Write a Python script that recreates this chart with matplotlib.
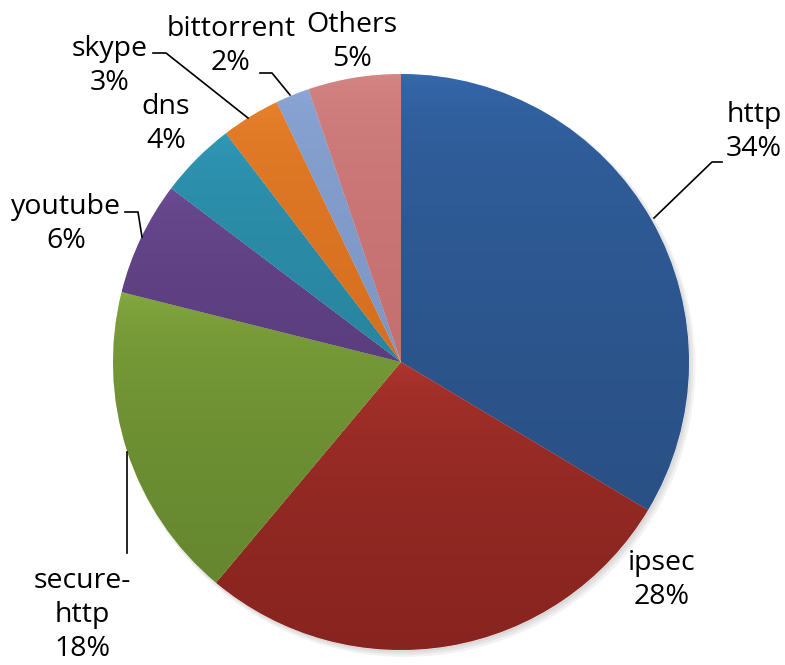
import numpy as np
import matplotlib.pyplot as plt
from matplotlib.colors import to_rgb

labels = ["http", "ipsec", "secure-\nhttp", "youtube", "dns", "skype", "bittorrent", "Others"]
shares = [33.6, 27.5, 17.8, 6.4, 4.3, 3.3, 1.9, 5.2]
pct_text = ["34%", "28%", "18%", "6%", "4%", "3%", "2%", "5%"]
top_colors = ["#386fb7", "#bd3b34", "#8fb545", "#74529d", "#31a1c0", "#ee8730", "#90abd9", "#da8b8b"]
bottom_colors = ["#2a5186", "#88241f", "#66872f", "#5b3e7e", "#2985a0", "#d67020", "#7d97c6", "#c57070"]

R = 288.0
CX, CY = 401, 362


def px(x, y):
    # pixel position in the picture -> data coords of the pie
    return (x - CX) / R, (CY - y) / R


fig = plt.figure(figsize=(7.85, 6.65), dpi=100)
ax = fig.add_axes([0, 0, 1, 1])

# soft shadow
for i, a in enumerate([0.05, 0.05, 0.05]):
    sh = plt.Circle((0.006 + i * 0.004, -0.008 - i * 0.004), 1.0 + 0.004 * i,
                    color="black", alpha=a, lw=0, zorder=0)
    ax.add_patch(sh)

wedges, _ = ax.pie(shares, startangle=90, counterclock=False, radius=1,
                   colors=top_colors, wedgeprops=dict(linewidth=0.4, edgecolor="white"))

for w, c1, c2 in zip(wedges, top_colors, bottom_colors):
    ext = w.get_path().get_extents()
    c1, c2 = np.array(to_rgb(c1)), np.array(to_rgb(c2))
    t = np.linspace(0, 1, 256)[:, None] ** 0.3
    grad = (c1 * (1 - t) + c2 * t)[:, None, :]
    im = ax.imshow(grad, extent=[ext.x0, ext.x1, ext.y0, ext.y1], origin="upper",
                   aspect="auto", zorder=1.5, interpolation="bilinear")
    im.set_clip_path(w)

ax.set_xlim(-CX / R, (785 - CX) / R)
ax.set_ylim(-(665 - CY) / R, CY / R)
ax.set_aspect("equal")
ax.axis("off")

font = dict(fontsize=20.5, family="Open Sans", color="black", ha="center", va="center",
            linespacing=1.28)

text_pos = [(754, 132), (662, 580), (82, 615), (66, 224), (166, 124), (110, 66), (231, 46), (352, 42)]
for lab, p, (x, y) in zip(labels, pct_text, text_pos):
    ax.text(*px(x, y), lab + "\n" + p, **font)

leaders = [
    [(654, 218), (712, 162), (722, 162)],
    [(127, 452), (127, 553)],
    [(142, 237), (138, 212), (125, 212)],
    [(248, 118), (166, 53), (153, 53)],
    [(290, 95), (272, 73), (260, 73)],
]
for pts in leaders:
    xy = np.array([px(x, y) for x, y in pts])
    ax.plot(xy[:, 0], xy[:, 1], color="black", lw=1.2, zorder=3)

plt.savefig("out.png", dpi=100)
plt.close()
